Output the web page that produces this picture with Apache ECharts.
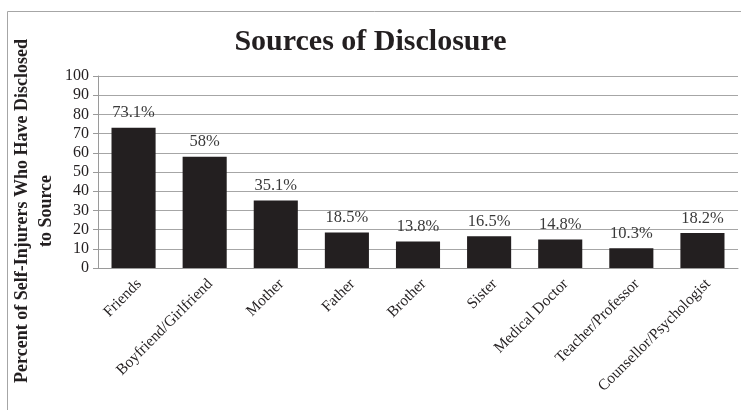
<!DOCTYPE html>
<html>
<head>
<meta charset="utf-8">
<script src="https://cdn.jsdelivr.net/npm/echarts@6/dist/echarts.min.js"></script>
<style>
    html, body { margin: 0; padding: 0; background: #fff; }
    #chart { width: 741px; height: 410px; }
</style>
</head>
<body>
<div id="chart"></div>
<script>
    // 数据
    const categories = ['Friends', 'Boyfriend/Girlfriend', 'Mother', 'Father', 'Brother', 'Sister', 'Medical Doctor', 'Teacher/Professor', 'Counsellor/Psychologist']
    const percentValues = [73.1, 58, 35.1, 18.5, 13.8, 16.5, 14.8, 10.3, 18.2]
    const yTicks = [0, 10, 20, 30, 40, 50, 60, 70, 80, 90, 100]

    const serif = '"Liberation Serif", "DejaVu Serif", serif'
    const myChart = echarts.init(document.getElementById('chart'))

    const option = {
        backgroundColor: '#ffffff',
        animation: false,
        title: {
            text: 'Sources of Disclosure',
            left: 'center',
            top: 22,
            textStyle: {
                fontFamily: serif,
                fontWeight: 'bold',
                fontSize: 30,
                color: '#231f20'
            }
        },
        graphic: [
            {
                // 外边框（只露出左、上两边）
                type: 'rect',
                left: 5,
                top: 9,
                shape: { width: 800, height: 500 },
                style: { fill: 'none', stroke: '#a6a6a6', lineWidth: 1 },
                silent: true
            },
            {
                // y轴标题
                type: 'text',
                x: 34,
                y: 211,
                rotation: Math.PI / 2,
                style: {
                    text: 'Percent of Self-Injurers Who Have Disclosed\nto Source',
                    fontFamily: serif,
                    fontWeight: 'bold',
                    fontSize: 18,
                    lineHeight: 24,
                    fill: '#231f20',
                    align: 'center',
                    verticalAlign: 'middle'
                }
            }
        ],
        grid: {
            left: 98,
            right: 3,
            top: 76,
            bottom: 142
        },
        xAxis: {
            type: 'category',
            data: categories,
            axisTick: { show: false },
            axisLine: { lineStyle: { color: '#9a9a9a', width: 1 } },
            axisLabel: {
                interval: 0,
                rotate: 45,
                margin: 8,
                verticalAlign: 'top',
                fontFamily: serif,
                fontSize: 15.5,
                color: '#231f20'
            }
        },
        yAxis: {
            type: 'value',
            min: yTicks[0],
            max: yTicks[yTicks.length - 1],
            interval: 10,
            axisLine: { show: true, lineStyle: { color: '#9a9a9a', width: 1 } },
            axisTick: { show: true, length: 5, lineStyle: { color: '#9a9a9a' } },
            axisLabel: {
                margin: 9,
                fontFamily: serif,
                fontSize: 16,
                color: '#231f20'
            },
            splitLine: { lineStyle: { color: '#a6a6a6', width: 1 } }
        },
        series: [
            {
                type: 'bar',
                data: percentValues,
                barWidth: '62%',
                itemStyle: { color: '#231f20' },
                label: {
                    show: true,
                    position: 'top',
                    distance: 6,
                    fontFamily: serif,
                    fontSize: 16.5,
                    color: '#3a3a3a',
                    formatter: (p) => p.value + '%'
                }
            }
        ]
    }
    myChart.setOption(option)
</script>
</body>
</html>
